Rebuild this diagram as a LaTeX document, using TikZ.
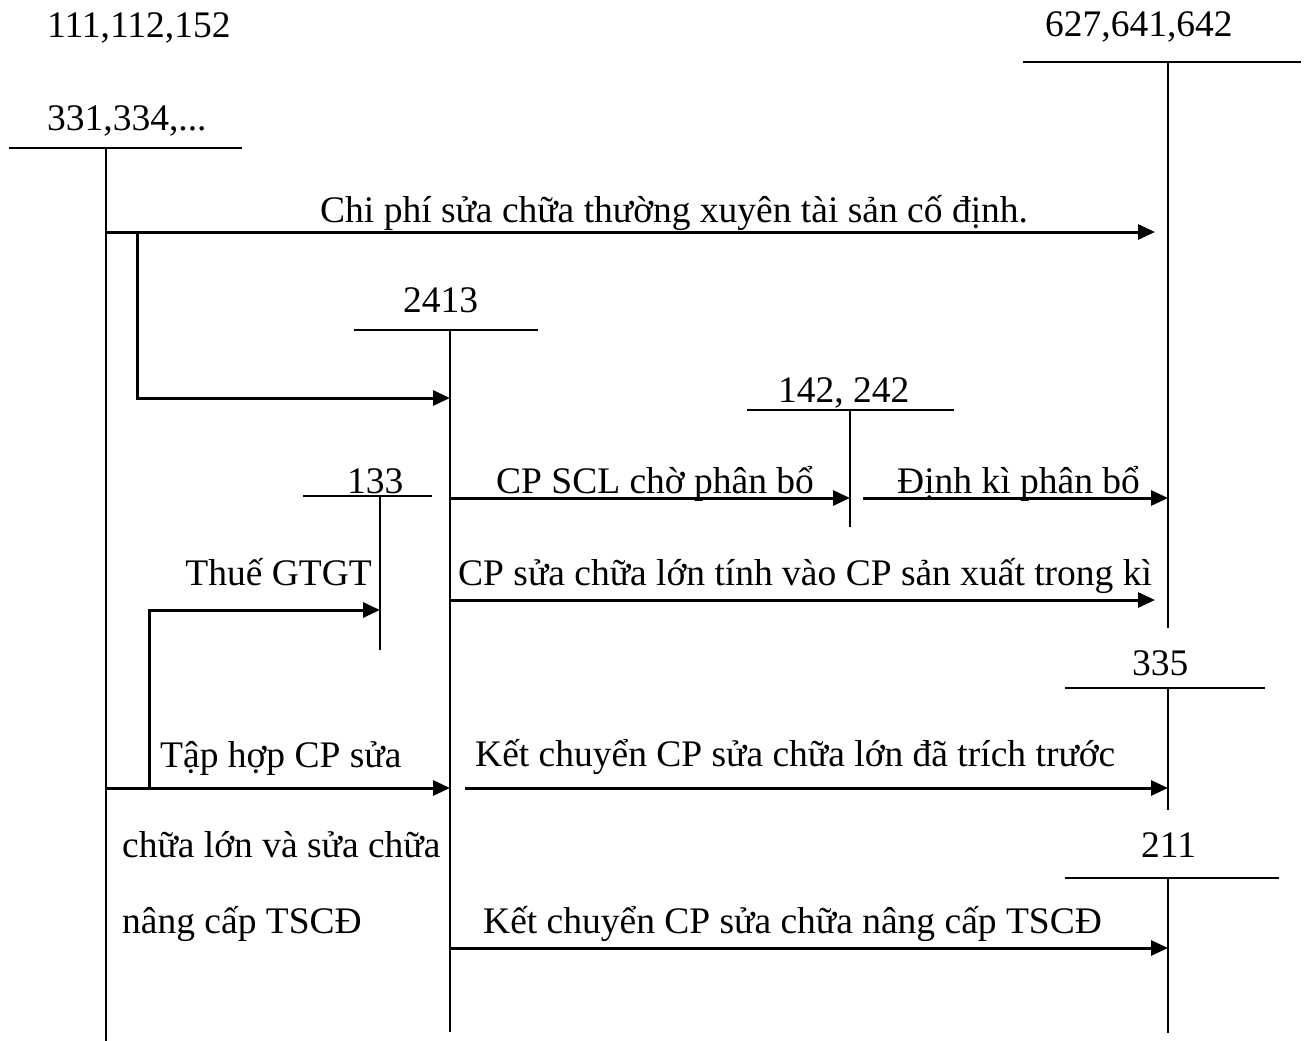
\documentclass[tikz,border=0pt]{standalone}
\usepackage{fontspec}
\setmainfont{Liberation Serif}
\usetikzlibrary{arrows.meta}
\begin{document}
\begin{tikzpicture}[x=1pt,y=-1pt,
  lbl/.style={inner sep=0pt,anchor=base west,font=\fontsize{37.5}{44}\selectfont},
  lblr/.style={lbl,anchor=base east},
  tacc/.style={line width=2.2pt},
  flow/.style={line width=3pt,-{Triangle[length=17pt,width=15pt]}}]
\useasboundingbox (0,0) rectangle (1309,1041);
% ---------- T accounts: coordinates ----------
\coordinate (A1l) at (9,148);   \coordinate (A1r) at (242,148);
\coordinate (A1t) at (106,148); \coordinate (A1b) at (106,1041);
\coordinate (B1l) at (1023,62); \coordinate (B1r) at (1301,62);
\coordinate (B1t) at (1168,62); \coordinate (B1b) at (1168,628);
\coordinate (C1l) at (354,330); \coordinate (C1r) at (538,330);
\coordinate (C1t) at (450,330); \coordinate (C1b) at (450,1032);
\coordinate (D1l) at (747,410); \coordinate (D1r) at (954,410);
\coordinate (D1t) at (850,410); \coordinate (D1b) at (850,527);
\coordinate (E1l) at (303,496); \coordinate (E1r) at (432,496);
\coordinate (E1t) at (380,496); \coordinate (E1b) at (380,650);
\coordinate (F1l) at (1065,688); \coordinate (F1r) at (1265,688);
\coordinate (F1t) at (1168,688); \coordinate (F1b) at (1168,810);
\coordinate (G1l) at (1065,878); \coordinate (G1r) at (1279,878);
\coordinate (G1t) at (1168,878); \coordinate (G1b) at (1168,1033);
\foreach \n in {A1,B1,C1,D1,E1,F1,G1}{
  \draw[tacc] (\n l) -- (\n r);
  \draw[tacc] (\n t) -- (\n b);
}
% ---------- account labels ----------
\node[lbl] (n111) at (47,38) {111,112,152};
\node[lbl] (n331) at (47,130) {331,334,...};
\node[lbl] (n627) at (1045,37) {627,641,642};
\node[lbl] (n2413) at (403,312) {2413};
\node[lbl] (n142) at (778,402) {142, 242};
\node[lbl] (n133) at (347,493) {133};
\node[lbl] (n335) at (1132,675) {335};
\node[lbl] (n211) at (1141,857) {211};
% ---------- flow labels ----------
\node[lbl] (t1) at (320,222) {Chi phí sửa chữa thường xuyên tài sản cố định.};
\node[lbl] (t2) at (496,493) {CP SCL chờ phân bổ};
\node[lbl] (t3) at (897,493) {Định kì phân bổ};
\node[lblr] (t4) at (372,585) {Thuế GTGT};
\node[lbl] (t5) at (458,585) {CP sửa chữa lớn tính vào CP sản xuất trong kì};
\node[lbl] (t6) at (160,767) {Tập hợp CP sửa};
\node[lbl] (t7) at (475,766) {Kết chuyển CP sửa chữa lớn đã trích trước};
\node[lbl] (t8) at (122,857) {chữa lớn và sửa chữa};
\node[lbl] (t9) at (122,933) {nâng cấp TSCĐ};
\node[lbl] (t10) at (483,933) {Kết chuyển CP sửa chữa nâng cấp TSCĐ};
% ---------- flow coordinates ----------
\coordinate (f1s) at (106,232);  \coordinate (f1e) at (1155,232);
\coordinate (f2s) at (137,232);  \coordinate (f2m) at (137,398); \coordinate (f2e) at (450,398);
\coordinate (f3s) at (450,498);  \coordinate (f3e) at (850,498);
\coordinate (f4s) at (863,498);  \coordinate (f4e) at (1168,498);
\coordinate (f5s) at (450,600);  \coordinate (f5e) at (1155,600);
\coordinate (f6s) at (149,788);  \coordinate (f6m) at (149,610); \coordinate (f6e) at (380,610);
\coordinate (f7s) at (106,788);  \coordinate (f7e) at (450,788);
\coordinate (f8s) at (465,788);  \coordinate (f8e) at (1168,788);
\coordinate (f9s) at (450,948);  \coordinate (f9e) at (1168,948);
% ---------- flows ----------
\draw[flow] (f1s) -- (f1e);
\draw[flow] (f2s) -- (f2m) -- (f2e);
\draw[flow] (f3s) -- (f3e);
\draw[flow] (f4s) -- (f4e);
\draw[flow] (f5s) -- (f5e);
\draw[flow] (f6s) -- (f6m) -- (f6e);
\draw[flow] (f7s) -- (f7e);
\draw[flow] (f8s) -- (f8e);
\draw[flow] (f9s) -- (f9e);
\end{tikzpicture}
\end{document}
